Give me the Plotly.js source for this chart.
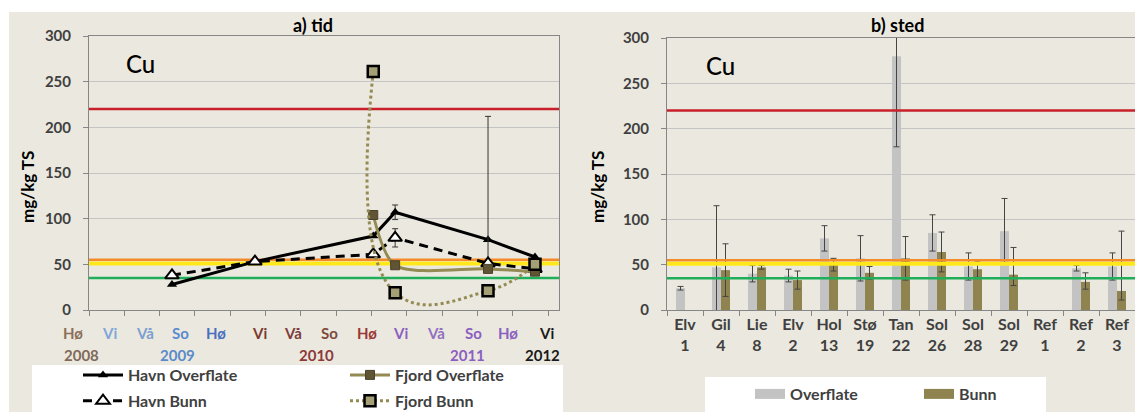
<!DOCTYPE html>
<html>
<head>
<meta charset="utf-8">
<script src="https://cdn.plot.ly/plotly-3.0.1.min.js"></script>
<style>html,body{margin:0;padding:0;background:#fff;overflow:hidden}</style>
</head>
<body>
<div id="chart" style="width:1135px;height:412px"></div>
<script>
// ---------- a) tid (time) ----------
const timeX = [2.35, 4.70, 8.05, 8.67, 11.30, 12.63];
const havnOverflate = [28, 53, 81, 107, 77, 58];
const havnOverflateErr = [0, 0, 0, 8, 0, 0];
const havnBunn = [38, 53, 61, 79, 51, 45];
const havnBunnErrPlus = [0, 0, 0, 10, 161, 0];
const havnBunnErrMinus = [0, 0, 0, 10, 4, 0];
const fjordX = [8.05, 8.67, 11.30, 12.63];
const fjordOverflate = [104, 49, 45, 42];
const fjordBunn = [261, 19, 21, 50];

const seasonLabels = ['Hø','Vi','Vå','So','Hø','Vi','Vå','So','Hø','Vi','Vå','So','Hø','Vi'];
const seasonPos = [-0.45, 0.57, 1.59, 2.58, 3.6, 4.84, 5.78, 6.8, 7.88, 8.81, 9.83, 10.9, 11.87, 12.95];
const seasonColors = ['#8c6e5a','#7ea6d8','#7c9fd0','#5b8bd0','#4a6ec0','#7a3a30','#7b3b3b','#7d4a40','#9a3838','#8b5fc0','#9070c0','#8a60c0','#8a60c0','#1a1a1a'];
const yearLabels = ['2008','2009','2010','2011','2012'];
const yearPos = [-0.2, 2.52, 6.43, 10.71, 12.83];
const yearColors = ['#7f6a5a','#5b8bc8','#8b3a3a','#8b5fc0','#1a1a1a'];

// ---------- b) sted (place) ----------
const sites = ['Elv<br>1','Gil<br>4','Lie<br>8','Elv<br>2','Hol<br>13','Stø<br>19','Tan<br>22','Sol<br>26','Sol<br>28','Sol<br>29','Ref<br>1','Ref<br>2','Ref<br>3'];
const overflate = [24, 47, 40, 38, 79, 57, 280, 85, 48, 87, null, 46, 48];
const overflateErr = [2, 68, 9, 7, 14, 25, 100, 20, 15, 36, 0, 3, 15];
const bunn = [null, 44, 47, 33, 50, 41, 57, 64, 45, 39, null, 31, 21];
const bunnErrPlus = [0, 29, 2, 10, 7, 7, 24, 22, 9, 30, 0, 10, 66];
const bunnErrMinus = [0, 29, 2, 10, 7, 7, 24, 22, 9, 12, 0, 8, 10];

// class limits
const limits = [220, 55, 51, 35];
const limitColors = ['#c8202a', '#f58a2a', '#ffe81a', '#1fae5a'];
const limitWidths = [2.5, 2.5, 4, 2.5];

const W = 1135, H = 412;
const px = v => v / W;
const py = v => (H - v) / H;
const FONT = 'Lato, "Open Sans", sans-serif';
const TXT = '#404040';

const xDomain = [px(89), px(559)];
const xRange = [0, 13.31];
const toPaperX = v => xDomain[0] + (v - xRange[0]) / (xRange[1] - xRange[0]) * (xDomain[1] - xDomain[0]);

const traces = [];
// class-limit lines on the time panel (under the data)
limits.forEach((v, i) => traces.push({
  x: xRange, y: [v, v], type: 'scatter', mode: 'lines', xaxis: 'x', yaxis: 'y',
  showlegend: false, hoverinfo: 'skip', line: {color: limitColors[i], width: limitWidths[i]}}));

traces.push(
  {x: timeX, y: havnOverflate, name: 'Havn Overflate', type: 'scatter', mode: 'lines+markers',
   xaxis: 'x', yaxis: 'y', legend: 'legend', legendgroup: 'g1',
   line: {color: '#000', width: 3},
   marker: {symbol: 'triangle-up', size: 9, color: '#000'},
   error_y: {type: 'data', array: havnOverflateErr, color: '#333', thickness: 1, width: 3}},
  {x: timeX, y: havnBunn, name: 'Havn Bunn', type: 'scatter', mode: 'lines+markers',
   xaxis: 'x', yaxis: 'y', legend: 'legend', legendgroup: 'g2',
   line: {color: '#000', width: 3, dash: '9px,6px'},
   marker: {symbol: 'triangle-up', size: 12, color: '#fff', line: {color: '#000', width: 2}},
   error_y: {type: 'data', symmetric: false, array: havnBunnErrPlus, arrayminus: havnBunnErrMinus, color: '#333', thickness: 1, width: 3}},
  {x: fjordX, y: fjordOverflate, name: 'Fjord Overflate', type: 'scatter', mode: 'lines+markers',
   xaxis: 'x', yaxis: 'y', legend: 'legend2', legendgroup: 'g3',
   line: {color: '#948a54', width: 3, shape: 'spline', smoothing: 0.8},
   marker: {symbol: 'square', size: 9, color: '#5f5434', line: {color: '#4a4128', width: 1}}},
  {x: fjordX, y: fjordBunn, name: 'Fjord Bunn', type: 'scatter', mode: 'lines+markers',
   xaxis: 'x', yaxis: 'y', legend: 'legend2', legendgroup: 'g4',
   line: {color: '#948a54', width: 3, dash: 'dot', shape: 'spline', smoothing: 1.3},
   marker: {symbol: 'square', size: 11, color: '#a49f74', line: {color: '#000', width: 2.5}}},

  {x: sites, y: overflate, name: 'Overflate', type: 'bar', xaxis: 'x2', yaxis: 'y2', showlegend: false,
   marker: {color: '#c3c3c3'},
   error_y: {type: 'data', array: overflateErr, color: '#444', thickness: 1, width: 3}},
  {x: sites, y: bunn, name: 'Bunn', type: 'bar', xaxis: 'x2', yaxis: 'y2', showlegend: false,
   marker: {color: '#8f8450'},
   error_y: {type: 'data', symmetric: false, array: bunnErrPlus, arrayminus: bunnErrMinus, color: '#444', thickness: 1, width: 3}},
  // legend swatches for the bar chart
  {x: [null], y: [null], name: 'Overflate', type: 'scatter', mode: 'lines', xaxis: 'x2', yaxis: 'y2',
   legend: 'legend3', line: {color: '#c3c3c3', width: 10}},
  {x: [null], y: [null], name: 'Bunn', type: 'scatter', mode: 'lines', xaxis: 'x2', yaxis: 'y2',
   legend: 'legend3', line: {color: '#8f8450', width: 10}}
);

const shapes = [
  {type: 'rect', xref: 'paper', yref: 'paper', x0: px(9), x1: 1, y0: 0, y1: py(12),
   fillcolor: '#ebe9df', line: {width: 0}, layer: 'below'},
  {type: 'rect', xref: 'paper', yref: 'paper', x0: px(32), x1: px(563), y0: 0, y1: py(365),
   fillcolor: '#ffffff', line: {width: 0}, layer: 'below'},
  {type: 'rect', xref: 'paper', yref: 'paper', x0: px(705), x1: px(1046), y0: 0, y1: py(377),
   fillcolor: '#ffffff', line: {width: 0}, layer: 'below'}
];
limits.forEach((v, i) => {
  shapes.push({type: 'line', xref: 'x2 domain', yref: 'y2', x0: 0, x1: 1, y0: v, y1: v,
    line: {color: limitColors[i], width: limitWidths[i]}, layer: 'above'});
});

const ann = (text, x, y, font, extra) => Object.assign({
  text: text, x: x, y: y, xref: 'paper', yref: 'paper', showarrow: false,
  xanchor: 'center', yanchor: 'middle', font: font}, extra || {});

const annotations = [];
seasonLabels.forEach((t, i) => annotations.push(ann(t, toPaperX(seasonPos[i]), py(333),
  {family: FONT, size: 15, weight: 'bold', color: seasonColors[i]})));
yearLabels.forEach((t, i) => annotations.push(ann(t, toPaperX(yearPos[i]), py(355),
  {family: FONT, size: 15, weight: 'bold', color: yearColors[i]})));
annotations.push(
  ann('a) tid', px(313), py(25), {family: FONT, size: 18, weight: 'bold', color: '#000'}),
  ann('b) sted', px(897), py(25), {family: FONT, size: 18, weight: 'bold', color: '#000'}),
  ann('Cu', px(140), py(63), {family: FONT, size: 24, weight: 500, color: '#000'}),
  ann('Cu', px(720), py(65), {family: FONT, size: 24, weight: 500, color: '#000'}),
  ann('mg/kg TS', px(27), py(187), {family: FONT, size: 17, weight: 'bold', color: '#000'}, {textangle: -90}),
  ann('mg/kg TS', px(597), py(187), {family: FONT, size: 17, weight: 'bold', color: '#000'}, {textangle: -90})
);

const yCommon = {
  range: [0, 300], dtick: 50, tick0: 0, showgrid: true, gridcolor: '#c4c4c4', gridwidth: 1,
  showline: true, linecolor: '#868686', linewidth: 1, mirror: true, zeroline: false,
  ticks: 'outside', ticklen: 5, tickcolor: '#868686', ticklabelstandoff: 9,
  tickfont: {family: FONT, size: 15, weight: 'bold', color: TXT}, fixedrange: true
};

const legFont = {family: FONT, size: 16, weight: 'bold', color: TXT};
const layout = {
  width: W, height: H, autosize: false,
  margin: {l: 0, r: 0, t: 0, b: 0, pad: 0, autoexpand: false},
  paper_bgcolor: '#ffffff', plot_bgcolor: '#ffffff',
  font: {family: FONT, color: TXT},
  barmode: 'group', bargap: 0.5, bargroupgap: 0,
  xaxis: {domain: xDomain, range: xRange, anchor: 'y', showgrid: false,
    showline: true, linecolor: '#868686', mirror: true, zeroline: false,
    ticks: 'outside', tick0: 0, dtick: 1, ticklen: 5, tickcolor: '#868686',
    showticklabels: false, fixedrange: true},
  yaxis: Object.assign({}, yCommon, {domain: [py(310), py(36)], anchor: 'x'}),
  xaxis2: {domain: [px(667), 1], type: 'category', anchor: 'y2', showgrid: false,
    showline: true, linecolor: '#868686', mirror: true, zeroline: false,
    ticks: 'outside', tickson: 'boundaries', ticklen: 5, tickcolor: '#868686',
    tickfont: {family: FONT, size: 16, weight: 'bold', color: TXT}, fixedrange: true},
  yaxis2: Object.assign({}, yCommon, {domain: [py(310), py(38)], anchor: 'x2'}),
  legend: {x: px(78), y: py(358), xanchor: 'left', yanchor: 'top', bgcolor: 'rgba(0,0,0,0)',
    font: legFont, itemwidth: 40, tracegroupgap: 2},
  legend2: {x: px(345), y: py(358), xanchor: 'left', yanchor: 'top', bgcolor: 'rgba(0,0,0,0)',
    font: legFont, itemwidth: 40, tracegroupgap: 2},
  legend3: {x: px(750), y: py(377), xanchor: 'left', yanchor: 'top', orientation: 'h',
    bgcolor: 'rgba(0,0,0,0)', entrywidth: 124, entrywidthmode: 'pixels',
    font: legFont, itemwidth: 30},
  shapes: shapes,
  annotations: annotations
};

Plotly.newPlot('chart', traces, layout, {displayModeBar: false, staticPlot: true});
</script>
</body>
</html>
